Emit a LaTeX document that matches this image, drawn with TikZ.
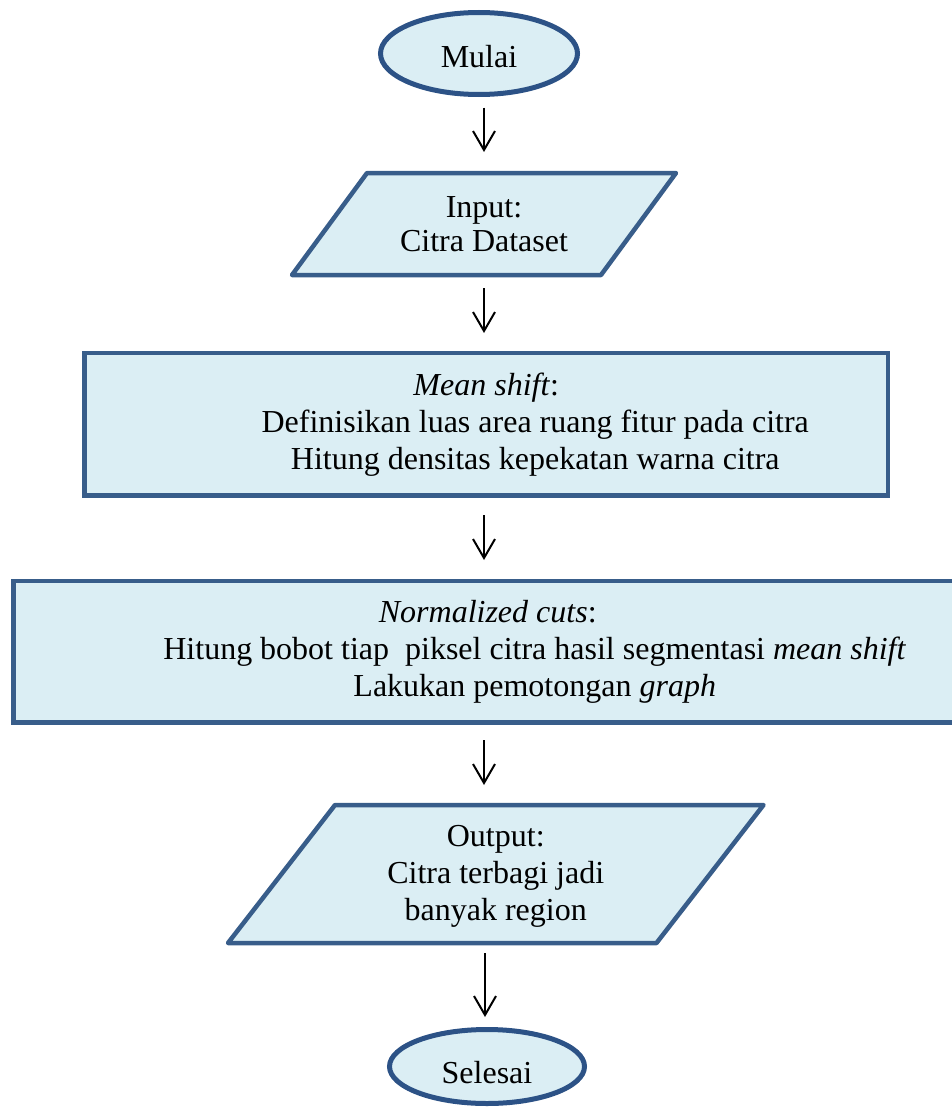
\documentclass[tikz,border=0pt]{standalone}
\usepackage{fontspec}
\setmainfont{Liberation Serif}
\usetikzlibrary{shapes.geometric,arrows.meta,backgrounds}
\definecolor{edgeblue}{HTML}{385D8A}
\definecolor{ovalblue}{HTML}{2C5286}
\definecolor{fillblue}{HTML}{DBEEF4}
\tikzset{
  x=1pt, y=-1pt,
  txt/.style={font=\fontsize{32}{37}\selectfont, align=center, inner sep=0pt, outer sep=0pt},
  terminal/.style={txt, ellipse, draw=ovalblue, fill=fillblue, line width=5pt},
  procbox/.style={txt, rectangle, draw=edgeblue, fill=fillblue, line width=4.5pt},
  ioshape/.style={txt, rectangle},
  ioline/.style={draw=edgeblue, fill=fillblue, line width=4.5pt, line join=round},
  arr/.style={draw=black, line width=2pt, -{Straight Barb[length=19pt,width=22pt,line width=2pt]}}
}
\begin{document}
\begin{tikzpicture}
\useasboundingbox (0,0) rectangle (951,1108);
\coordinate (axis) at (484,0);
\node[terminal, minimum width=197pt, minimum height=82pt] (start) at (479,53.5) {\raisebox{-3pt}[\height][\depth]{Mulai}};
\node[ioshape, minimum width=309pt, minimum height=102pt] (inp) at (484,224) {Input:\\[-3pt]Citra Dataset};
\node[procbox, minimum width=803.5pt, minimum height=142.5pt] (ms) at (486.25,424.25)
  {\textit{Mean shift}:\\ \hspace*{98pt}Definisikan luas area ruang fitur pada citra\\ \hspace*{98pt}Hitung densitas kepekatan warna citra};
\node[procbox, minimum width=948.5pt, minimum height=141.5pt] (nc) at (487.75,651.75)
  {\textit{Normalized cuts}:\\ \hspace*{94pt}Hitung bobot tiap\ \ piksel citra hasil segmentasi \textit{mean shift}\\ \hspace*{94pt}Lakukan pemotongan \textit{graph}};
\node[ioshape, minimum width=428.5pt, minimum height=138pt] (out) at (495.75,876) {Output:\\Citra terbagi jadi\\banyak region};
\node[terminal, minimum width=195pt, minimum height=74pt] (stop) at (487,1066.5) {\raisebox{-6pt}[\height][\depth]{Selesai}};
\begin{scope}[on background layer]
  \path[ioline] ([xshift=37.5pt]inp.north west) -- ([xshift=37.5pt]inp.north east)
    -- ([xshift=-37.5pt]inp.south east) -- ([xshift=-37.5pt]inp.south west) -- cycle;
  \path[ioline] ([xshift=53.5pt,yshift=2pt]out.north west) -- ([xshift=53.5pt,yshift=2pt]out.north east)
    -- ([xshift=-53.5pt,yshift=2pt]out.south east) -- ([xshift=-53.5pt,yshift=2pt]out.south west) -- cycle;
\end{scope}
\draw[arr, shorten <=13pt, shorten >=21pt] (start.south -| axis) -- (inp.north -| axis);
\draw[arr, shorten <=13pt, shorten >=20pt] (inp.south -| axis) -- (ms.north -| axis);
\draw[arr, shorten <=19.5pt, shorten >=21pt] (ms.south -| axis) -- (nc.north -| axis);
\draw[arr, shorten <=17.5pt, shorten >=22pt] (nc.south -| axis) -- (out.north -| axis);
\draw[arr, shorten <=8pt, shorten >=12.5pt] ([xshift=1pt]out.south -| axis) -- ([xshift=1pt]stop.north -| axis);
\end{tikzpicture}
\end{document}
